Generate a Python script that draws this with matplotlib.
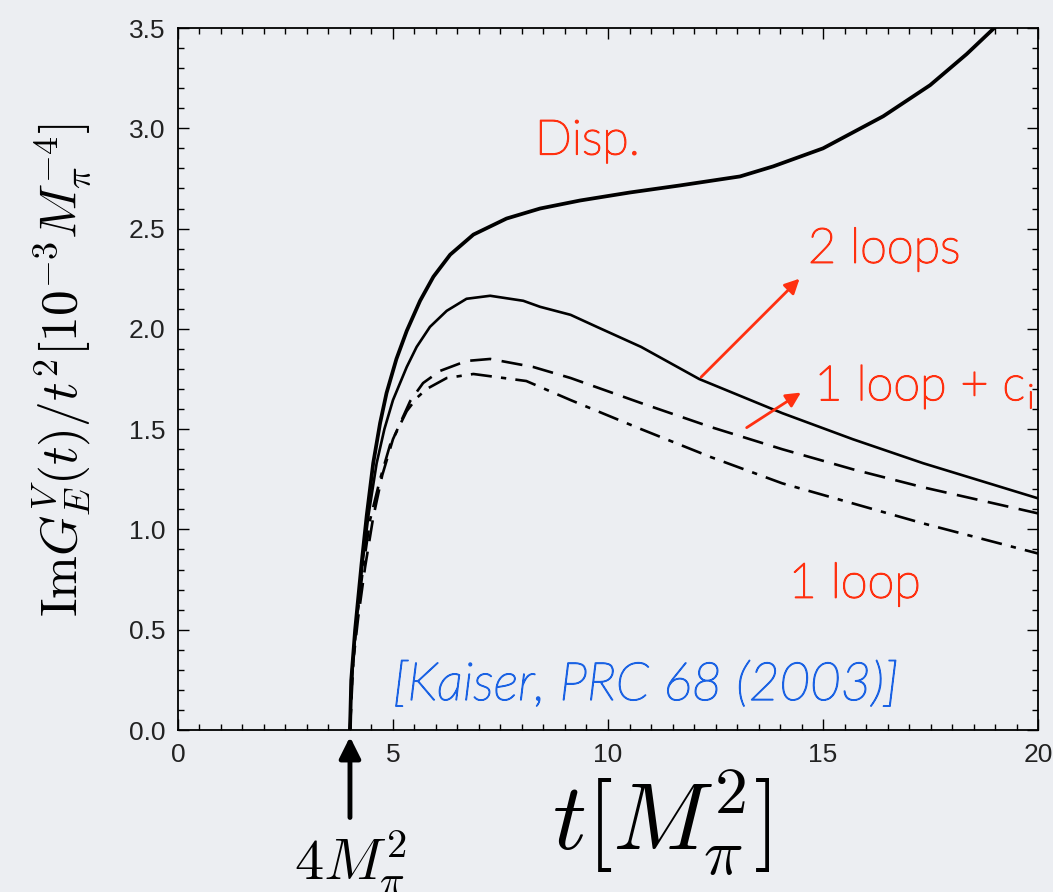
import numpy as np
import matplotlib
matplotlib.use('Agg')
import matplotlib.pyplot as plt
import matplotlib.patheffects as pe

plt.rcParams['mathtext.fontset'] = 'cm'

# t in units of M_pi^2
t_disp = [4.0, 4.03, 4.12, 4.27, 4.39, 4.54, 4.7, 4.85, 5.08, 5.32, 5.63, 5.94, 6.33,
          6.87, 7.64, 8.42, 9.35, 10.51, 11.67, 13.07, 13.84, 15.0, 16.4, 17.49,
          18.34, 18.98]
y_disp = [0.0, 0.25, 0.50, 0.83, 1.07, 1.33, 1.53, 1.68, 1.85, 1.99, 2.14, 2.26, 2.37,
          2.47, 2.55, 2.60, 2.64, 2.68, 2.715, 2.76, 2.81, 2.90, 3.06, 3.215,
          3.37, 3.5]

t_2loop = [4.0, 4.03, 4.13, 4.29, 4.43, 4.62, 4.8, 5.0, 5.32, 5.55, 5.86, 6.25, 6.71,
           7.26, 8.03, 8.42, 9.13, 9.74, 10.77, 12.12, 14.05, 15.69, 17.33, 20.0]
y_2loop = [0.0, 0.25, 0.50, 0.83, 1.07, 1.33, 1.50, 1.645, 1.81, 1.91, 2.01, 2.09, 2.15,
           2.165, 2.14, 2.11, 2.07, 2.01, 1.91, 1.75, 1.58, 1.45, 1.33, 1.155]

t_1loopc = [4.0, 4.08, 4.19, 4.35, 4.54, 4.75, 5.0, 5.40, 5.70, 6.09, 6.71, 7.26, 8.26,
            9.13, 10.77, 12.4, 14.05, 15.69, 17.33, 20.0]
y_1loopc = [0.0, 0.35, 0.56, 0.81, 1.06, 1.27, 1.45, 1.64, 1.73, 1.79, 1.84, 1.85, 1.81,
            1.755, 1.63, 1.51, 1.40, 1.30, 1.21, 1.08]

t_1loop = [4.0, 4.06, 4.16, 4.3, 4.47, 4.7, 4.93, 5.32, 5.55, 5.78, 6.25, 6.87, 8.1,
           9.13, 10.77, 12.4, 14.05, 15.69, 17.33, 20.0]
y_1loop = [0.0, 0.3, 0.55, 0.8, 1.05, 1.25, 1.42, 1.59, 1.655, 1.70, 1.755, 1.775, 1.74,
           1.645, 1.50, 1.36, 1.23, 1.13, 1.03, 0.88]

bg = '#eceef2'
red = '#ff3010'
blue = '#1a62e4'
fig = plt.figure(figsize=(10.53, 8.92), dpi=100, facecolor=bg)
ax = fig.add_axes([0.169, 0.1816, 0.8168, 0.787])
ax.set_facecolor(bg)

ax.plot(t_disp, y_disp, color='black', lw=2.7, solid_joinstyle='round')
ax.plot(t_2loop, y_2loop, color='black', lw=1.9)
ax.plot(t_1loopc, y_1loopc, color='black', lw=1.9, dashes=(8, 4))
ax.plot(t_1loop, y_1loop, color='black', lw=1.9, dashes=(8, 3.5, 2, 3.5))

ax.set_xlim(0, 20)
ax.set_ylim(0, 3.5)
ax.set_xticks([0, 5, 10, 15, 20])
ax.set_yticks(np.arange(0, 3.51, 0.5))
ax.set_xticks(np.arange(0, 20.01, 0.5), minor=True)
ax.set_yticks(np.arange(0, 3.51, 0.1), minor=True)
ax.yaxis.set_major_formatter(matplotlib.ticker.FormatStrFormatter('%.1f'))
ax.tick_params(which='both', direction='in', top=True, right=True, width=1.0,
               labelsize=19, labelcolor='#222222')
ax.tick_params(which='major', length=8, pad=9)
ax.tick_params(which='minor', length=4)
for s in ax.spines.values():
    s.set_linewidth(1.3)
for lab in ax.get_xticklabels() + ax.get_yticklabels():
    lab.set_family('Liberation Sans')

ax.set_xlabel(r'$t[M_\pi^2]$', fontsize=68)
ax.xaxis.set_label_coords(0.562, -0.055)
ax.set_ylabel(r'$\mathrm{Im}G_E^V(t)/t^2[10^{-3}M_\pi^{-4}]$', fontsize=37)
ax.yaxis.set_label_coords(-0.096, 0.513)

red_fx = [pe.withStroke(linewidth=1.1, foreground=red)]
txt = dict(color=red, fontsize=35, family='Lato', fontweight='light', path_effects=red_fx)
ax.text(8.3, 2.87, 'Disp.', **txt)
ax.text(14.65, 2.33, '2 loops', **txt)
ax.text(14.8, 1.645, r'1 loop + c$_\mathregular{i}$', clip_on=False, **txt)
ax.text(14.2, 0.66, '1 loop', **txt)

arr = dict(arrowstyle='-|>', color=red, lw=2, mutation_scale=22)
ax.annotate('', xy=(14.5, 2.26), xytext=(12.12, 1.75), arrowprops=arr)
ax.annotate('', xy=(14.54, 1.69), xytext=(13.17, 1.50), arrowprops=arr)

ax.text(5.0, 0.15, '[Kaiser, PRC 68 (2003)]', color=blue, fontsize=38,
        family='Lato', fontweight='light', style='italic',
        path_effects=[pe.withStroke(linewidth=1.0, foreground=blue)])

ax.annotate('', xy=(4.0, -0.02), xytext=(4.0, -0.45), annotation_clip=False,
            arrowprops=dict(arrowstyle='-|>', color='black', lw=3.5, mutation_scale=32))
ax.text(4.0, -0.66, r'$4M_\pi^2$', fontsize=42, ha='center', va='center')

fig.savefig('out.png', dpi=100, facecolor=bg)
